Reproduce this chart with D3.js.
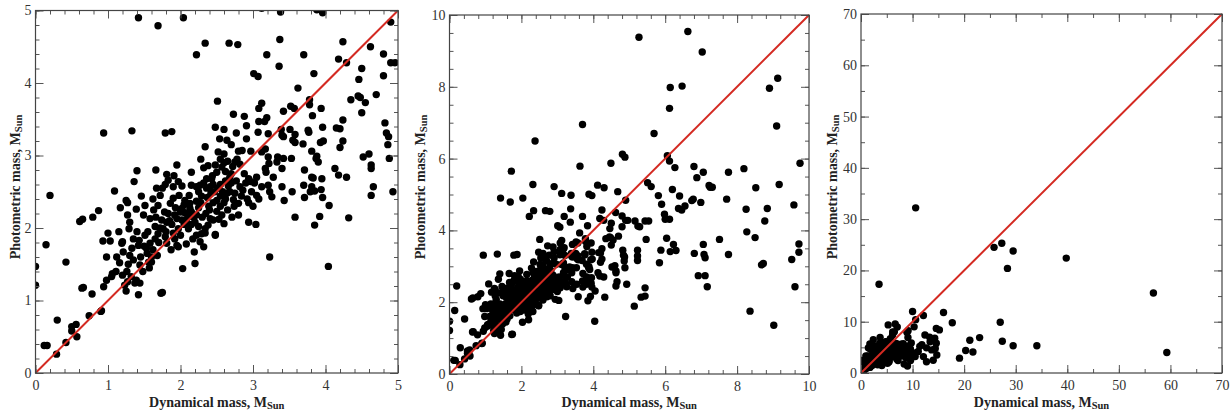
<!DOCTYPE html>
<html>
<head>
<meta charset="utf-8">
<script src="https://cdn.jsdelivr.net/npm/d3@7"></script>
<style>
  body { margin: 0; background: #fff; }
  svg { display: block; }
</style>
</head>
<body>
<div id="chart"></div>
<script>
// Dynamical vs photometric mass, [dynamical, photometric] in solar masses.
// The three panels show the same stars at different zoom levels.

// stars with dynamical mass below 5
const pointsLow = [
  [0.20,2.45],[0.145,1.77],[0.0,1.47],[0.0,1.21],[0.42,1.53],[0.12,0.38],[0.16,0.38],[0.30,0.73],
  [0.29,0.26],[0.42,0.42],[0.50,0.58],[0.50,0.64],[0.56,0.67],[0.57,0.50],[0.64,1.17],[0.66,1.18],
  [0.61,2.09],[0.65,2.12],[0.78,1.09],[0.74,0.79],[0.90,0.85],[0.91,0.86],[0.79,2.15],[0.87,2.24],
  [0.94,1.19],[0.98,1.28],[0.93,1.82],[1.03,1.82],[1.00,1.93],[1.05,1.33],[1.06,1.37],[1.11,1.40],
  [1.09,2.51],[1.17,2.28],[1.20,1.81],[1.19,1.79],[1.16,1.52],[1.21,1.67],[1.23,1.21],[1.25,1.13],
  [1.27,1.26],[1.25,2.38],[1.27,2.35],[1.27,2.18],[1.29,1.99],[1.30,2.08],[1.26,1.40],[1.30,1.62],
  [1.33,1.72],[1.35,1.56],[1.37,1.24],[1.39,1.28],[1.42,1.08],[1.44,1.24],[1.39,2.26],[1.40,1.95],
  [1.43,1.83],[1.42,1.76],[1.44,1.49],[1.46,2.44],[1.51,2.31],[1.51,1.90],[1.53,1.72],[1.54,1.65],
  [1.58,1.79],[1.56,1.53],[1.60,1.60],[1.60,1.53],[1.49,2.18],[1.58,2.13],[1.63,2.25],[1.65,2.02],
  [1.69,1.92],[1.65,1.85],[1.66,2.15],[1.69,2.31],[1.73,1.10],[1.75,1.11],[1.72,2.45],[1.74,2.11],
  [1.76,1.99],[1.79,1.88],[1.81,1.79],[1.81,2.08],[1.83,2.20],[1.86,2.34],[1.90,2.41],[1.95,2.13],
  [1.97,1.99],[1.95,1.76],[1.97,1.74],[2.03,1.44],[2.02,2.27],[2.06,2.38],[2.08,2.08],[2.11,1.99],
  [2.13,2.34],[2.18,2.15],[2.20,2.08],[2.19,1.67],[2.20,1.51],[2.22,1.90],[2.27,1.81],[2.29,1.92],
  [2.32,1.74],[2.34,1.99],[2.38,2.04],[2.48,1.90],[2.41,2.13],[2.25,2.50],
  [1.90,1.93],[2.02,2.11],[2.06,2.21],[2.13,2.27],[2.22,2.37],[2.29,2.44],[2.34,1.93],[2.39,2.30],
  [2.45,2.11],[2.50,2.23],[2.55,2.44],[2.64,2.48],[2.73,2.39],[2.80,2.34],[2.84,2.44],[2.82,2.57],
  [2.68,2.50],[1.88,2.05],[1.92,2.18],[2.00,2.22],[2.05,2.05],[2.10,2.15],[2.15,2.22],[2.25,2.28],
  [2.30,2.15],[2.35,2.20],[2.45,2.35],[2.50,2.38],[2.55,2.30],[2.60,2.35],[2.65,2.25],[2.42,2.48],
  [2.36,2.55],[2.55,2.60],[2.62,2.65],[2.70,2.62],[2.75,2.48],[2.45,2.60],
  [1.45,1.60],[1.50,1.75],[1.55,1.95],[1.62,1.70],[1.68,1.62],[1.70,1.80],[1.72,2.00],[1.78,2.22],
  [1.80,1.95],[1.85,2.10],[1.87,1.70],[1.92,1.85],[1.93,2.28],[1.98,2.45],[2.00,1.90],[2.05,2.32],
  [2.08,1.78],[2.12,2.45],[2.15,2.05],[2.17,1.85],[2.22,2.18],[2.25,2.02],[2.28,2.35],[2.32,2.62],
  [2.37,2.42],[2.40,2.25],[2.44,2.72],[2.47,2.50],[2.52,2.55],[2.53,2.12],[2.58,2.50],[2.62,2.40],
  [2.66,2.58],[2.70,2.75],[2.74,2.30],[2.77,2.65],[2.86,2.52],[2.90,2.62],[2.92,2.40],[2.98,2.50],
  [3.02,2.62],[3.08,2.40],[1.35,1.85],[1.48,1.40],[1.57,1.45],[1.62,2.40],[1.75,2.55],[1.28,1.50],
  [1.20,1.35],[1.32,1.33],[1.12,1.60],[1.15,1.95],[0.98,1.60],[2.60,2.90],[2.52,3.05],[2.70,3.15],
  [3.23,1.60],[4.04,1.47],[3.58,2.15],[3.85,2.04],[3.92,2.16],[4.32,2.14],[3.54,2.50],[3.71,2.42],
  [3.79,2.50],[3.85,2.51],[3.94,2.53],[3.96,2.42],[4.05,2.31],[3.43,2.38],[3.26,2.43],[3.23,2.50],
  [3.40,2.57],[3.05,2.45],[2.94,2.08],[3.04,2.05],[2.94,2.35],[3.00,2.30],[2.80,2.18],[2.71,2.15],
  [2.60,2.06],[2.57,2.18],[2.48,1.91],[4.66,2.57],[4.63,2.45],[4.93,2.50],
  [1.42,4.90],[1.69,4.79],[2.04,4.90],[2.34,4.55],[2.22,4.39],[0.94,3.31],[1.33,3.34],[1.79,3.31],
  [1.88,3.33],[2.34,3.12],[2.28,2.95],[1.95,2.87],[1.66,2.80],[1.40,2.79],[1.36,2.64],[2.15,2.77],
  [2.32,2.83],[2.38,2.86],[2.48,2.87],[1.81,2.74],[1.91,2.72],[1.83,2.66],[1.97,2.64],[1.79,2.60],
  [1.67,2.55],[2.02,2.58],[1.90,2.57],[2.15,2.59],[2.22,2.57],[2.36,2.68],[2.43,2.68],[2.27,2.59],
  [2.41,2.57],
  [2.67,4.55],[2.79,4.53],[3.37,4.60],[3.19,4.39],[3.70,4.39],[3.36,4.23],[3.01,4.13],[3.07,4.09],
  [4.24,4.57],[4.62,4.50],[4.80,4.40],[4.90,4.84],[4.90,4.28],[4.96,4.28],[4.18,4.33],[4.29,4.28],
  [3.84,4.13],[4.50,4.20],[4.46,4.05],[4.80,4.10],[3.62,3.93],[4.70,3.84],[4.35,3.77],[4.45,3.82],
  [4.48,3.80],[4.55,3.73],[4.50,3.59],[3.78,3.77],[3.78,3.70],[2.51,3.75],[3.12,3.72],[3.08,3.65],
  [3.42,3.61],[3.52,3.68],[3.57,3.65],[3.82,3.55],[3.94,3.65],[2.73,3.57],[2.88,3.54],[3.08,3.47],
  [3.16,3.47],[3.19,3.52],[2.91,3.41],[2.48,3.39],[2.60,3.36],[2.77,3.31],[2.54,3.23],[2.64,3.21],
  [2.91,3.23],[3.07,3.32],[3.21,3.30],[3.39,3.36],[3.40,3.28],[3.42,3.26],[3.51,3.36],[3.58,3.29],
  [3.76,3.35],[3.77,3.32],[3.96,3.39],[4.15,3.38],[4.20,3.37],[4.24,3.49],[4.82,3.45],[4.84,3.31],
  [4.87,3.26],[4.86,3.15],[4.88,2.96],[4.24,3.20],[4.20,3.11],[3.97,3.20],[3.93,3.18],[3.69,3.16],
  [3.58,3.18],[3.55,3.21],[3.81,3.06],[3.88,2.99],[3.87,2.96],[3.90,2.91],[4.52,2.98],[4.60,3.02],
  [4.63,2.87],[4.63,2.82],[4.13,2.82],[4.18,2.73],[4.29,2.70],[3.71,2.80],[3.81,2.70],[3.83,2.69],
  [3.95,2.68],[3.12,3.05],[3.17,3.09],[3.34,2.98],[3.33,2.91],[3.42,2.96],[3.21,2.98],[3.22,2.89],
  [3.17,2.82],[3.18,2.77],[3.05,2.70],[3.28,2.70],[3.40,2.82],[2.97,3.06],[2.85,3.07],[2.80,3.06],
  [2.75,2.91],[2.57,2.84],[2.50,2.77],[2.88,2.75],[2.94,2.68],[2.97,2.64],[3.12,2.57],[3.21,2.59],
  [3.53,2.96],[3.70,2.59],[3.81,2.57],[3.12,5.03],[3.38,4.98],[3.96,4.97],[3.88,5.01],
  [2.62,2.78],[2.68,2.70],[2.72,2.85],[2.55,2.95],[2.65,2.92],[2.82,2.88],[2.78,2.95],[2.60,3.02],
  [3.70,6.95],[2.38,6.49],[1.72,5.65],[2.32,5.28],[3.63,5.79],[4.49,5.87],[4.81,6.12],[4.88,6.04],
  [2.91,5.22],[4.12,5.26],[4.30,5.19],[4.68,5.08]
];

// stars with dynamical mass between 5 and 10
const pointsMid = [
  [5.27,9.38],[6.63,9.54],[7.03,8.97],[6.14,7.98],[6.47,8.02],[6.12,7.40],[8.90,7.96],[9.13,8.24],
  [9.10,6.91],[5.69,6.70],[6.06,6.08],[6.12,5.93],[6.27,5.75],[6.80,5.78],[7.06,5.62],[6.88,5.47],
  [7.22,5.25],[7.31,5.20],[7.25,5.20],[5.51,5.33],[5.61,5.22],[6.20,5.14],[5.81,4.97],[5.90,4.73],
  [6.40,4.96],[6.37,4.61],[6.46,4.57],[6.55,4.68],[6.74,4.83],[6.78,4.87],[6.99,4.78],[7.71,4.87],
  [7.76,5.62],[8.19,5.72],[8.52,5.19],[8.25,4.59],[8.84,4.61],[9.17,5.28],[9.58,4.71],[9.75,5.87],
  [5.16,4.26],[5.24,4.12],[5.29,4.10],[5.44,4.26],[5.54,4.26],[6.00,4.31],[5.98,4.45],[6.12,4.31],
  [5.47,3.75],[6.04,3.78],[6.23,3.61],[6.14,3.41],[6.30,3.44],[5.88,3.45],[5.84,3.10],[6.81,3.36],
  [7.06,3.61],[7.08,3.33],[7.11,3.24],[7.51,3.75],[7.76,3.33],[6.92,2.74],[7.11,2.74],[7.17,2.43],
  [8.27,3.96],[8.50,3.80],[8.77,4.26],[8.68,3.04],[8.73,3.08],[8.36,1.75],[9.02,1.36],[9.52,3.19],
  [9.72,3.62],[9.72,3.39],[9.61,2.43],[5.23,3.45],[5.23,3.29],[5.23,3.16],[5.14,1.89],[5.33,2.14],
  [5.44,2.17],[5.44,2.40]
];

// stars beyond 10 solar masses on either axis
const pointsHigh = [
  [10.6,32.2],[3.5,17.3],[25.8,24.5],[27.3,25.3],[29.5,23.8],[28.4,20.4],[39.8,22.4],[56.7,15.6],
  [59.3,4.0],[27.0,9.9],[27.4,6.2],[29.5,5.3],[34.1,5.3],[23.0,6.9],[21.1,6.4],[20.3,4.4],
  [21.7,4.1],[19.1,2.9],[17.7,9.8],[16.0,11.8],[14.6,8.7],[15.2,8.4],[12.1,11.2],[10.0,12.0],
  [10.6,10.4],[10.3,9.0],[12.4,7.4],[13.3,7.0],[14.3,6.8],[13.4,6.1],[14.6,5.8],[14.4,4.8],
  [14.7,3.5],[14.0,2.5],[12.1,3.2],[12.7,2.2],[10.5,3.2],[11.1,4.2],[11.8,5.5],[11.4,5.2],
  [13.7,4.5],[12.7,4.9],[10.5,3.9]
];

const allPoints = pointsLow.concat(pointsMid, pointsHigh);

// axis ranges and tick steps for each panel
const axisMax = [5, 10, 70];
const xMajorStep = [1, 2, 10];
const xMinorStep = [0.2, 0.4, 5];
const yMajorStep = [1, 2, 10];
const yMinorStep = [0.2, 0.5, 5];

const xTitle = 'Dynamical mass, M';
const yTitle = 'Photometric mass, M';
const subscript = 'Sun';

// layout (pixel boxes of each plot frame)
const frames = [
  {left: 35.5, top: 10.5, right: 398, bottom: 373, yTitleX: 20},
  {left: 449.5, top: 15, right: 809, bottom: 374, yTitleX: 425},
  {left: 861, top: 14, right: 1222, bottom: 373, yTitleX: 837},
];

const serif = '"Liberation Serif", "Times New Roman", Times, serif';
const W = 1231, H = 415;
const svg = d3.select('#chart').append('svg')
  .attr('width', W).attr('height', H)
  .style('font-family', serif);

function ticks(max, step) {
  return d3.range(0, max + step / 2, step).map(v => +v.toFixed(4));
}

frames.forEach((f, i) => {
  const max = axisMax[i];
  const x = d3.scaleLinear().domain([0, max]).range([f.left, f.right]);
  const y = d3.scaleLinear().domain([0, max]).range([f.bottom, f.top]);
  const g = svg.append('g');

  // clip for points
  const clipId = 'clip' + i;
  svg.append('clipPath').attr('id', clipId)
    .append('rect')
    .attr('x', f.left).attr('y', f.top)
    .attr('width', f.right - f.left).attr('height', f.bottom - f.top);

  g.append('g').attr('clip-path', `url(#${clipId})`)
    .selectAll('circle')
    .data(allPoints)
    .join('circle')
    .attr('cx', d => x(d[0]))
    .attr('cy', d => y(d[1]))
    .attr('r', 3.7)
    .attr('fill', '#000');

  // 1:1 line
  g.append('line')
    .attr('x1', x(0)).attr('y1', y(0))
    .attr('x2', x(max)).attr('y2', y(max))
    .attr('stroke', '#d42a22').attr('stroke-width', 2);

  const xMaj = ticks(max, xMajorStep[i]);
  const yMaj = ticks(max, yMajorStep[i]);
  const xMin = ticks(max, xMinorStep[i]);
  const yMin = ticks(max, yMinorStep[i]);

  const axes = [
    [d3.axisBottom(x), f.bottom, 'y', xMaj, xMin, true],
    [d3.axisTop(x), f.top, 'y', xMaj, xMin, false],
    [d3.axisLeft(y), f.left, 'x', yMaj, yMin, true],
    [d3.axisRight(y), f.right, 'x', yMaj, yMin, false],
  ];

  axes.forEach(([axis, pos, dir, maj, min, labels]) => {
    const tr = dir === 'y' ? `translate(0,${pos})` : `translate(${pos},0)`;
    const gMin = g.append('g').attr('transform', tr)
      .call(axis.tickValues(min).tickSize(-4).tickFormat(''));
    gMin.select('.domain').remove();
    gMin.selectAll('line').attr('stroke', '#555');

    const gMaj = g.append('g').attr('transform', tr)
      .call(axis.tickValues(maj).tickSize(-8).tickPadding(dir === 'y' ? 7 : 4)
        .tickFormat(labels ? d3.format('d') : ''));
    gMaj.attr('font-family', serif);
    gMaj.select('.domain').remove();
    gMaj.selectAll('line').attr('stroke', '#555');
    gMaj.selectAll('text')
      .attr('fill', '#333')
      .style('font-size', '14px');
  });

  // frame
  g.append('rect')
    .attr('x', f.left).attr('y', f.top)
    .attr('width', f.right - f.left).attr('height', f.bottom - f.top)
    .attr('fill', 'none').attr('stroke', '#444').attr('stroke-width', 1.2);

  // axis titles
  const xt = g.append('text')
    .attr('x', (f.left + f.right) / 2).attr('y', 407)
    .attr('text-anchor', 'middle')
    .style('font-size', '14px').style('font-weight', 'bold').attr('fill', '#222')
    .text(xTitle);
  xt.append('tspan').attr('dy', 2).style('font-size', '10.5px').text(subscript);

  const yt = g.append('text')
    .attr('transform', `translate(${f.yTitleX},187) rotate(-90)`)
    .attr('text-anchor', 'middle')
    .style('font-size', '14px').style('font-weight', 'bold').attr('fill', '#222')
    .text(yTitle);
  yt.append('tspan').attr('dy', 2).style('font-size', '10.5px').text(subscript);
});
</script>
</body>
</html>
